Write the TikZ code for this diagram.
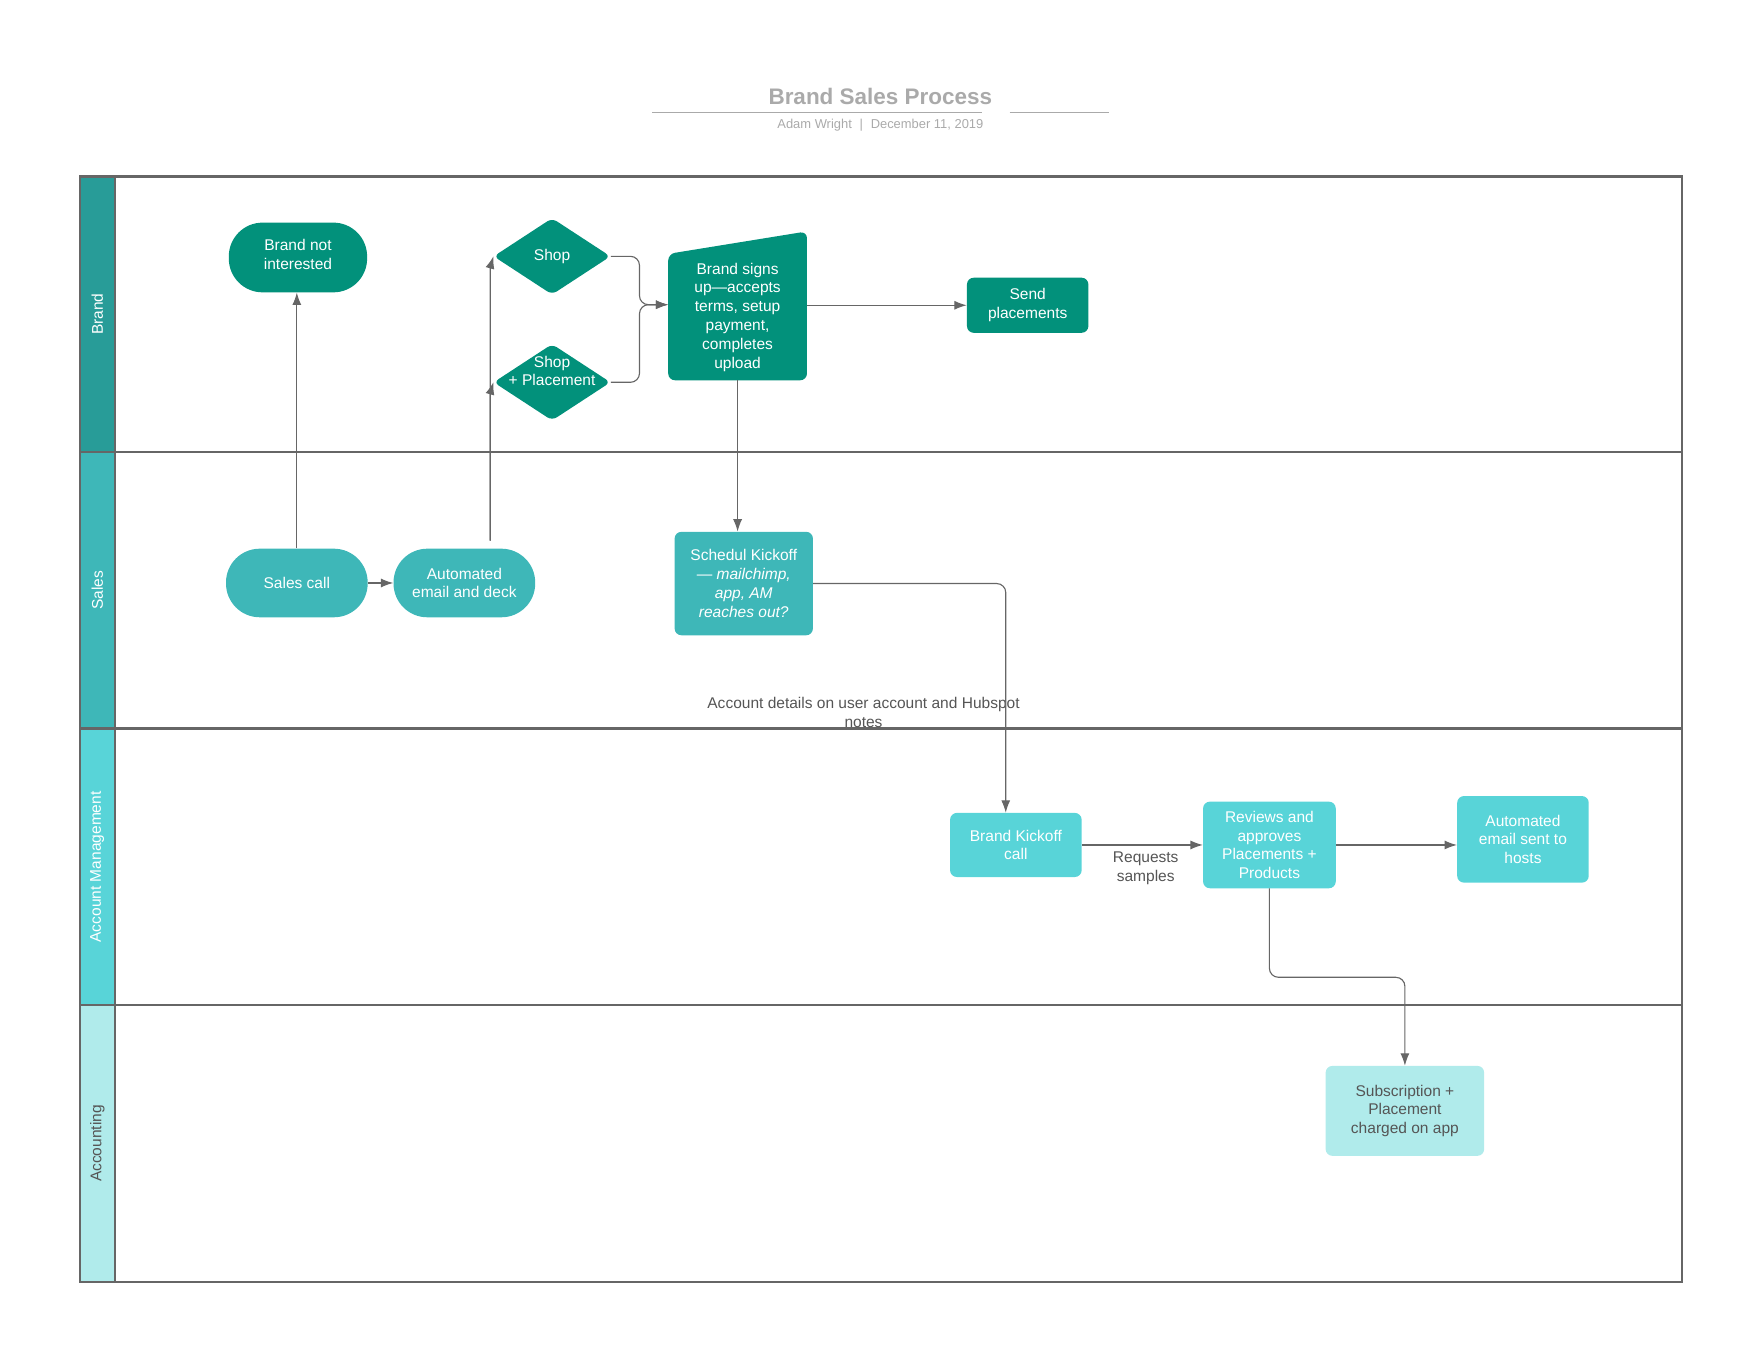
\documentclass[tikz,border=0pt]{standalone}
\usepackage{fontspec}
\setmainfont{Liberation Sans}
\usetikzlibrary{arrows.meta,calc,shapes.geometric,backgrounds}

\definecolor{brandc}{HTML}{02917B}
\definecolor{brandhd}{HTML}{289C98}
\definecolor{salesc}{HTML}{3EB7B8}
\definecolor{amc}{HTML}{58D4D8}
\definecolor{acctc}{HTML}{B0EBEB}
\definecolor{linec}{HTML}{666666}
\definecolor{titlec}{HTML}{AAAAAA}
\definecolor{textc}{HTML}{555555}

\tikzset{
	nodefont/.style={font=\fontsize{13.8}{16.7}\selectfont},
	box/.style={nodefont, text=white, align=center, inner sep=0pt, rounded corners=6pt},
	pill/.style={box, rounded corners=30pt},
	diam/.style={diamond, fill=brandc, inner sep=0pt, rounded corners=5pt, minimum width=104pt, minimum height=68pt},
	lane/.style={draw=linec, line width=2pt},
	lanetext/.style={nodefont, rotate=90, text=white},
	conn/.style={draw=linec, line width=1pt, -{Latex[length=11pt,width=8pt]}},
	note/.style={nodefont, text=textc, align=center}
}

\begin{document}
\begin{tikzpicture}[x=1pt, y=-1pt]
			%%%%% START %%%%%
			\useasboundingbox (0,0) rectangle (1568,1209.6);
			
			% title
			\node[font=\bfseries\fontsize{20}{24}\selectfont, text=titlec] (title) at (783,86) {Brand Sales Process};
			\draw[titlec, line width=1.6pt] (580,100) -- (873,100);
			\draw[titlec, line width=1.6pt] (898,100) -- (986,100);
			\node[font=\fontsize{11.5}{14}\selectfont, text=titlec] (byline) at (783,111) {Adam Wright\hspace{0.6em}|\hspace{0.6em}December 11, 2019};
			
			% lanes
			\draw[lane, fill=brandhd] (71,157) rectangle (102,402);
			\draw[lane, fill=salesc] (71,402) rectangle (102,648);
			\draw[lane, fill=amc] (71,648) rectangle (102,894);
			\draw[lane, fill=acctc] (71,894) rectangle (102,1140);
			\draw[lane] (71,157) rectangle (1496,1140);
			\draw[lane] (102,402) -- (1496,402);
			\draw[lane] (102,648) -- (1496,648);
			\draw[lane] (102,894) -- (1496,894);
			
			\node[lanetext] (lbrand) at (86.5,279.5) {Brand};
			\node[lanetext] (lsales) at (86.5,525) {Sales};
			\node[lanetext] (lam) at (86.5,771) {Account Management};
			\node[lanetext, text=textc] (lacct) at (86.5,1017) {Accounting};
			
			% brand
			\node[pill, fill=brandc, minimum width=123pt, minimum height=62pt, text depth=6pt] (notint) at (265,229) {Brand not\\interested};
			\node[diam, label={[nodefont, text=white]center:Shop}] (shop) at (491,228) {};
			\node[diam, label={[nodefont, text=white, align=center, yshift=10pt]center:{Shop\\+ Placement}}] (shopplc) at (491,340) {};
			\node[box, minimum width=123pt, minimum height=112pt] (signs) at (656,282) {Brand signs\\up---accepts\\terms, setup\\payment,\\completes\\upload};
			\begin{pgfonlayer}{background}
				\fill[brandc, rounded corners=6pt] (signs.south west) -- (signs.north west) -- ([yshift=20pt]signs.north east) -- (signs.south east) -- cycle;
			\end{pgfonlayer}
			\node[box, fill=brandc, minimum width=108pt, minimum height=49pt] (send) at (914,271.5) {Send\\placements};
			
			% sales
			\node[pill, fill=salesc, minimum width=126pt, minimum height=61pt] (salescall) at (264,518.5) {Sales call};
			\node[pill, fill=salesc, minimum width=126pt, minimum height=61pt] (autoemail) at (413,518.5) {Automated\\email and deck};
			\node[box, fill=salesc, minimum width=123pt, minimum height=92pt] (sched) at (661.5,519) {Schedul Kickoff\\--- \textit{mailchimp,}\\\textit{app, AM}\\\textit{reaches out?}};
			\node[note] (acctnote) at (768,633.5) {Account details on user account and Hubspot\\notes};
			
			% account management
			\node[box, fill=amc, minimum width=117pt, minimum height=57pt] (kickoff) at (903.5,751.5) {Brand Kickoff\\call};
			\node[box, fill=amc, minimum width=118pt, minimum height=77pt] (reviews) at (1129,751.5) {Reviews and\\approves\\Placements +\\Products};
			\node[box, fill=amc, minimum width=117pt, minimum height=77pt] (hosts) at (1354.5,746.5) {Automated\\email sent to\\hosts};
			
			% accounting
			\node[box, fill=acctc, text=textc, minimum width=141pt, minimum height=80pt] (subscr) at (1249.5,988) {Subscription +\\Placement\\charged on app};
			
			% connectors
			\draw[conn] (salescall.north) -- (salescall.north |- notint.south);
			\draw[conn] (salescall) -- (autoemail);
			\coordinate (up) at ([xshift=23pt,yshift=7pt]autoemail.north);
			\draw[conn] (up) -- ++(0,-131) -- (shopplc.west);
			\draw[conn] (up) -- ++(0,-243) -- (shop.west);
			\coordinate (signsin) at ([yshift=11pt]signs.west);
			\coordinate (mrg) at ($(shop.east)!0.5!(signsin)$);
			\draw[conn, rounded corners=8pt] (shop.east) -| (mrg |- signsin) -- (signsin);
			\draw[conn, rounded corners=8pt] (shopplc.east) -| (mrg |- signsin) -- (signsin);
			\draw[conn] (signs.east |- send.west) -- (send.west);
			\draw[conn] (signs.south) -- (signs.south |- sched.north);
			\draw[conn, rounded corners=8pt] (sched.east) -| ([xshift=-9pt]kickoff.north);
			\draw[conn] (kickoff.east) -- (reviews.west);
			\node[note] (reqs) at (1019,772) {Requests\\samples};
			\draw[conn] (reviews.east) -- (reviews.east -| hosts.west);
			\draw[conn, rounded corners=8pt] (reviews.south) -- ++(0,79) -| (subscr.north);
			
			%%%%% END %%%%%
\end{tikzpicture}
\end{document}
